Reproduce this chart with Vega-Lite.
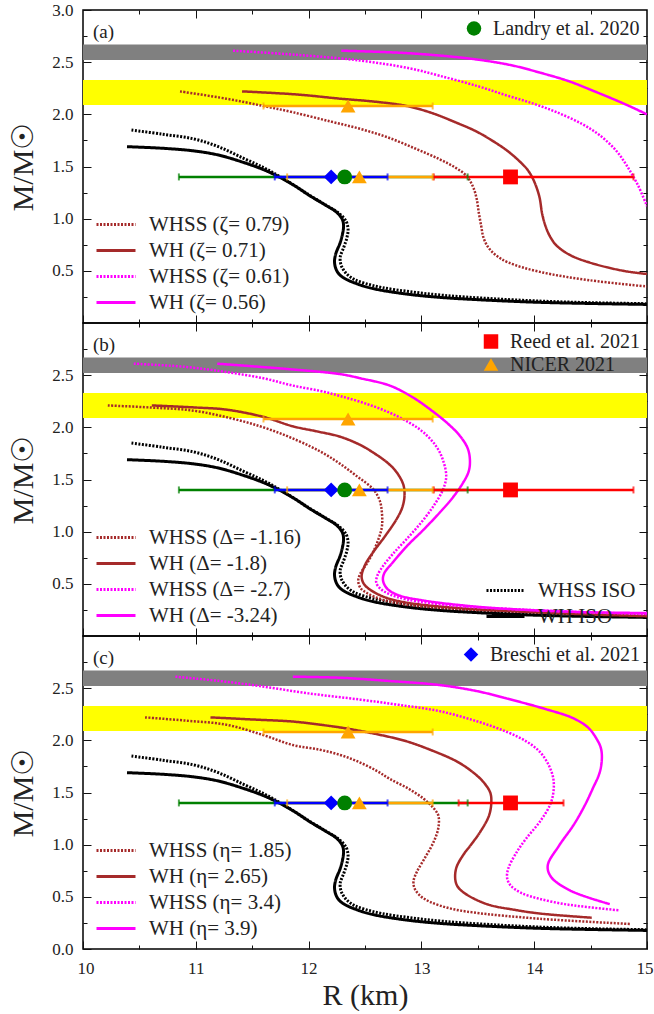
{
"$schema": "https://vega.github.io/schema/vega-lite/v6.json",
"padding": {"left": 7, "top": 0, "right": 0, "bottom": 0},
"background": "white",
"bounds": "flush",
"config": {
 "font": "Liberation Serif",
 "view": {"stroke": "black", "strokeWidth": 1.5},
 "axis": {"grid": false, "domain": false, "ticks": true, "labelFont": "Liberation Serif", "labelFontSize": 17, "labelColor": "#222", "tickColor": "#111", "tickWidth": 1, "titleFont": "Liberation Serif", "titleFontWeight": "normal", "titleColor": "#222"},
 "legend": {"labelFont": "Liberation Serif", "labelColor": "#222", "padding": 0},
 "text": {"font": "Liberation Serif"}
},
"datasets": {
 "bands": [{"band": "gray", "lo": 2.52, "hi": 2.67}, {"band": "yellow", "lo": 2.09, "hi": 2.33}],
 "obs": [
  {"obs": "Breschi et al. 2021", "R": 12.20, "M": 1.4},
  {"obs": "Landry et al. 2020", "R": 12.32, "M": 1.4},
  {"obs": "NICER 2021", "R": 12.45, "M": 1.4},
  {"obs": "Reed et al. 2021", "R": 13.79, "M": 1.4},
  {"obs": "NICER 2021", "R": 12.35, "M": 2.08}
 ],
 "bars": [
  {"p": "a", "obs": "Landry et al. 2020", "M": 1.4, "lo": 10.85, "hi": 13.41},
  {"p": "a", "obs": "NICER 2021", "M": 1.4, "lo": 11.81, "hi": 13.10},
  {"p": "a", "obs": "Reed et al. 2021", "M": 1.4, "lo": 13.11, "hi": 14.88},
  {"p": "a", "obs": "Breschi et al. 2021", "M": 1.4, "lo": 11.70, "hi": 12.70},
  {"p": "a", "obs": "NICER 2021", "M": 2.08, "lo": 11.60, "hi": 13.10},
  {"p": "b", "obs": "Landry et al. 2020", "M": 1.4, "lo": 10.85, "hi": 13.41},
  {"p": "b", "obs": "NICER 2021", "M": 1.4, "lo": 11.81, "hi": 13.10},
  {"p": "b", "obs": "Reed et al. 2021", "M": 1.4, "lo": 13.11, "hi": 14.88},
  {"p": "b", "obs": "Breschi et al. 2021", "M": 1.4, "lo": 11.70, "hi": 12.70},
  {"p": "b", "obs": "NICER 2021", "M": 2.08, "lo": 11.60, "hi": 13.10},
  {"p": "c", "obs": "Landry et al. 2020", "M": 1.4, "lo": 10.85, "hi": 13.41},
  {"p": "c", "obs": "NICER 2021", "M": 1.4, "lo": 11.81, "hi": 13.10},
  {"p": "c", "obs": "Reed et al. 2021", "M": 1.4, "lo": 13.33, "hi": 14.26},
  {"p": "c", "obs": "Breschi et al. 2021", "M": 1.4, "lo": 11.70, "hi": 12.70},
  {"p": "c", "obs": "NICER 2021", "M": 2.08, "lo": 11.60, "hi": 13.10}
 ],
 "iso": [
  {"s": "WH ISO", "i": 1, "R": 10.39, "M": 1.69}, {"s": "WH ISO", "i": 2, "R": 10.7, "M": 1.675}, {"s": "WH ISO", "i": 3, "R": 10.98, "M": 1.65}, {"s": "WH ISO", "i": 4, "R": 11.2, "M": 1.61}, {"s": "WH ISO", "i": 5, "R": 11.42, "M": 1.54}, {"s": "WH ISO", "i": 6, "R": 11.6, "M": 1.47}, {"s": "WH ISO", "i": 7, "R": 11.72, "M": 1.41}, {"s": "WH ISO", "i": 8, "R": 11.87, "M": 1.32}, {"s": "WH ISO", "i": 9, "R": 12.01, "M": 1.22}, {"s": "WH ISO", "i": 10, "R": 12.15, "M": 1.13}, {"s": "WH ISO", "i": 11, "R": 12.25, "M": 1.06}, {"s": "WH ISO", "i": 12, "R": 12.30, "M": 0.99}, {"s": "WH ISO", "i": 13, "R": 12.31, "M": 0.93}, {"s": "WH ISO", "i": 14, "R": 12.30, "M": 0.85}, {"s": "WH ISO", "i": 15, "R": 12.28, "M": 0.77}, {"s": "WH ISO", "i": 16, "R": 12.24, "M": 0.66}, {"s": "WH ISO", "i": 17, "R": 12.23, "M": 0.58}, {"s": "WH ISO", "i": 18, "R": 12.25, "M": 0.50}, {"s": "WH ISO", "i": 19, "R": 12.30, "M": 0.44}, {"s": "WH ISO", "i": 20, "R": 12.43, "M": 0.375}, {"s": "WH ISO", "i": 21, "R": 12.57, "M": 0.33}, {"s": "WH ISO", "i": 22, "R": 12.85, "M": 0.28}, {"s": "WH ISO", "i": 23, "R": 13.16, "M": 0.246}, {"s": "WH ISO", "i": 24, "R": 13.6, "M": 0.218}, {"s": "WH ISO", "i": 25, "R": 14.05, "M": 0.198}, {"s": "WH ISO", "i": 26, "R": 14.5, "M": 0.187}, {"s": "WH ISO", "i": 27, "R": 15.0, "M": 0.178},
  {"s": "WHSS ISO", "i": 1, "R": 10.43, "M": 1.85}, {"s": "WHSS ISO", "i": 2, "R": 10.7, "M": 1.81}, {"s": "WHSS ISO", "i": 3, "R": 10.98, "M": 1.765}, {"s": "WHSS ISO", "i": 4, "R": 11.2, "M": 1.69}, {"s": "WHSS ISO", "i": 5, "R": 11.42, "M": 1.58}, {"s": "WHSS ISO", "i": 6, "R": 11.6, "M": 1.49}, {"s": "WHSS ISO", "i": 7, "R": 11.75, "M": 1.40}, {"s": "WHSS ISO", "i": 8, "R": 11.9, "M": 1.30}, {"s": "WHSS ISO", "i": 9, "R": 12.03, "M": 1.21}, {"s": "WHSS ISO", "i": 10, "R": 12.17, "M": 1.12}, {"s": "WHSS ISO", "i": 11, "R": 12.27, "M": 1.05}, {"s": "WHSS ISO", "i": 12, "R": 12.33, "M": 0.98}, {"s": "WHSS ISO", "i": 13, "R": 12.35, "M": 0.90}, {"s": "WHSS ISO", "i": 14, "R": 12.34, "M": 0.82}, {"s": "WHSS ISO", "i": 15, "R": 12.31, "M": 0.72}, {"s": "WHSS ISO", "i": 16, "R": 12.28, "M": 0.63}, {"s": "WHSS ISO", "i": 17, "R": 12.29, "M": 0.55}, {"s": "WHSS ISO", "i": 18, "R": 12.33, "M": 0.48}, {"s": "WHSS ISO", "i": 19, "R": 12.40, "M": 0.42}, {"s": "WHSS ISO", "i": 20, "R": 12.5, "M": 0.38}, {"s": "WHSS ISO", "i": 21, "R": 12.65, "M": 0.34}, {"s": "WHSS ISO", "i": 22, "R": 12.9, "M": 0.30}, {"s": "WHSS ISO", "i": 23, "R": 13.2, "M": 0.265}, {"s": "WHSS ISO", "i": 24, "R": 13.6, "M": 0.235}, {"s": "WHSS ISO", "i": 25, "R": 14.05, "M": 0.21}, {"s": "WHSS ISO", "i": 26, "R": 14.5, "M": 0.195}, {"s": "WHSS ISO", "i": 27, "R": 15.0, "M": 0.185}
 ],
 "curves": [
  {"p": "a", "s": "WHSS (ζ= 0.79)", "i": 1, "R": 10.86, "M": 2.22}, {"p": "a", "s": "WHSS (ζ= 0.79)", "i": 2, "R": 11.27, "M": 2.15}, {"p": "a", "s": "WHSS (ζ= 0.79)", "i": 3, "R": 11.6, "M": 2.08}, {"p": "a", "s": "WHSS (ζ= 0.79)", "i": 4, "R": 11.86, "M": 2.02}, {"p": "a", "s": "WHSS (ζ= 0.79)", "i": 5, "R": 12.2, "M": 1.93}, {"p": "a", "s": "WHSS (ζ= 0.79)", "i": 6, "R": 12.46, "M": 1.86}, {"p": "a", "s": "WHSS (ζ= 0.79)", "i": 7, "R": 12.7, "M": 1.78}, {"p": "a", "s": "WHSS (ζ= 0.79)", "i": 8, "R": 12.95, "M": 1.67}, {"p": "a", "s": "WHSS (ζ= 0.79)", "i": 9, "R": 13.16, "M": 1.57}, {"p": "a", "s": "WHSS (ζ= 0.79)", "i": 10, "R": 13.30, "M": 1.49}, {"p": "a", "s": "WHSS (ζ= 0.79)", "i": 11, "R": 13.40, "M": 1.41}, {"p": "a", "s": "WHSS (ζ= 0.79)", "i": 12, "R": 13.46, "M": 1.30}, {"p": "a", "s": "WHSS (ζ= 0.79)", "i": 13, "R": 13.49, "M": 1.19}, {"p": "a", "s": "WHSS (ζ= 0.79)", "i": 14, "R": 13.51, "M": 1.05}, {"p": "a", "s": "WHSS (ζ= 0.79)", "i": 15, "R": 13.53, "M": 0.93}, {"p": "a", "s": "WHSS (ζ= 0.79)", "i": 16, "R": 13.55, "M": 0.82}, {"p": "a", "s": "WHSS (ζ= 0.79)", "i": 17, "R": 13.59, "M": 0.73}, {"p": "a", "s": "WHSS (ζ= 0.79)", "i": 18, "R": 13.66, "M": 0.65}, {"p": "a", "s": "WHSS (ζ= 0.79)", "i": 19, "R": 13.77, "M": 0.58}, {"p": "a", "s": "WHSS (ζ= 0.79)", "i": 20, "R": 14.05, "M": 0.49}, {"p": "a", "s": "WHSS (ζ= 0.79)", "i": 21, "R": 14.49, "M": 0.41}, {"p": "a", "s": "WHSS (ζ= 0.79)", "i": 22, "R": 15.0, "M": 0.35},
  {"p": "a", "s": "WH (ζ= 0.71)", "i": 1, "R": 11.41, "M": 2.22}, {"p": "a", "s": "WH (ζ= 0.71)", "i": 2, "R": 11.9, "M": 2.19}, {"p": "a", "s": "WH (ζ= 0.71)", "i": 3, "R": 12.28, "M": 2.15}, {"p": "a", "s": "WH (ζ= 0.71)", "i": 4, "R": 12.6, "M": 2.12}, {"p": "a", "s": "WH (ζ= 0.71)", "i": 5, "R": 12.87, "M": 2.08}, {"p": "a", "s": "WH (ζ= 0.71)", "i": 6, "R": 13.1, "M": 2.01}, {"p": "a", "s": "WH (ζ= 0.71)", "i": 7, "R": 13.31, "M": 1.92}, {"p": "a", "s": "WH (ζ= 0.71)", "i": 8, "R": 13.48, "M": 1.84}, {"p": "a", "s": "WH (ζ= 0.71)", "i": 9, "R": 13.61, "M": 1.76}, {"p": "a", "s": "WH (ζ= 0.71)", "i": 10, "R": 13.75, "M": 1.66}, {"p": "a", "s": "WH (ζ= 0.71)", "i": 11, "R": 13.85, "M": 1.57}, {"p": "a", "s": "WH (ζ= 0.71)", "i": 12, "R": 13.94, "M": 1.47}, {"p": "a", "s": "WH (ζ= 0.71)", "i": 13, "R": 13.99, "M": 1.38}, {"p": "a", "s": "WH (ζ= 0.71)", "i": 14, "R": 14.03, "M": 1.27}, {"p": "a", "s": "WH (ζ= 0.71)", "i": 15, "R": 14.05, "M": 1.19}, {"p": "a", "s": "WH (ζ= 0.71)", "i": 16, "R": 14.07, "M": 1.05}, {"p": "a", "s": "WH (ζ= 0.71)", "i": 17, "R": 14.10, "M": 0.93}, {"p": "a", "s": "WH (ζ= 0.71)", "i": 18, "R": 14.14, "M": 0.83}, {"p": "a", "s": "WH (ζ= 0.71)", "i": 19, "R": 14.20, "M": 0.74}, {"p": "a", "s": "WH (ζ= 0.71)", "i": 20, "R": 14.32, "M": 0.65}, {"p": "a", "s": "WH (ζ= 0.71)", "i": 21, "R": 14.49, "M": 0.58}, {"p": "a", "s": "WH (ζ= 0.71)", "i": 22, "R": 14.79, "M": 0.50}, {"p": "a", "s": "WH (ζ= 0.71)", "i": 23, "R": 15.0, "M": 0.47},
  {"p": "a", "s": "WHSS (ζ= 0.61)", "i": 1, "R": 11.33, "M": 2.61}, {"p": "a", "s": "WHSS (ζ= 0.61)", "i": 2, "R": 11.9, "M": 2.57}, {"p": "a", "s": "WHSS (ζ= 0.61)", "i": 3, "R": 12.46, "M": 2.515}, {"p": "a", "s": "WHSS (ζ= 0.61)", "i": 4, "R": 12.9, "M": 2.44}, {"p": "a", "s": "WHSS (ζ= 0.61)", "i": 5, "R": 13.16, "M": 2.37}, {"p": "a", "s": "WHSS (ζ= 0.61)", "i": 6, "R": 13.5, "M": 2.27}, {"p": "a", "s": "WHSS (ζ= 0.61)", "i": 7, "R": 13.76, "M": 2.18}, {"p": "a", "s": "WHSS (ζ= 0.61)", "i": 8, "R": 14.0, "M": 2.10}, {"p": "a", "s": "WHSS (ζ= 0.61)", "i": 9, "R": 14.20, "M": 2.02}, {"p": "a", "s": "WHSS (ζ= 0.61)", "i": 10, "R": 14.42, "M": 1.91}, {"p": "a", "s": "WHSS (ζ= 0.61)", "i": 11, "R": 14.58, "M": 1.80}, {"p": "a", "s": "WHSS (ζ= 0.61)", "i": 12, "R": 14.72, "M": 1.66}, {"p": "a", "s": "WHSS (ζ= 0.61)", "i": 13, "R": 14.82, "M": 1.51}, {"p": "a", "s": "WHSS (ζ= 0.61)", "i": 14, "R": 14.92, "M": 1.32}, {"p": "a", "s": "WHSS (ζ= 0.61)", "i": 15, "R": 15.0, "M": 1.12},
  {"p": "a", "s": "WH (ζ= 0.56)", "i": 1, "R": 12.29, "M": 2.61}, {"p": "a", "s": "WH (ζ= 0.56)", "i": 2, "R": 12.9, "M": 2.585}, {"p": "a", "s": "WH (ζ= 0.56)", "i": 3, "R": 13.46, "M": 2.53}, {"p": "a", "s": "WH (ζ= 0.56)", "i": 4, "R": 13.8, "M": 2.47}, {"p": "a", "s": "WH (ζ= 0.56)", "i": 5, "R": 14.05, "M": 2.40}, {"p": "a", "s": "WH (ζ= 0.56)", "i": 6, "R": 14.3, "M": 2.32}, {"p": "a", "s": "WH (ζ= 0.56)", "i": 7, "R": 14.49, "M": 2.24}, {"p": "a", "s": "WH (ζ= 0.56)", "i": 8, "R": 14.8, "M": 2.10}, {"p": "a", "s": "WH (ζ= 0.56)", "i": 9, "R": 15.0, "M": 2.00},

  {"p": "b", "s": "WHSS (Δ= -1.16)", "i": 1, "R": 10.22, "M": 2.21}, {"p": "b", "s": "WHSS (Δ= -1.16)", "i": 2, "R": 10.6, "M": 2.19}, {"p": "b", "s": "WHSS (Δ= -1.16)", "i": 3, "R": 10.98, "M": 2.16}, {"p": "b", "s": "WHSS (Δ= -1.16)", "i": 4, "R": 11.3, "M": 2.09}, {"p": "b", "s": "WHSS (Δ= -1.16)", "i": 5, "R": 11.57, "M": 2.01}, {"p": "b", "s": "WHSS (Δ= -1.16)", "i": 6, "R": 11.8, "M": 1.92}, {"p": "b", "s": "WHSS (Δ= -1.16)", "i": 7, "R": 12.01, "M": 1.82}, {"p": "b", "s": "WHSS (Δ= -1.16)", "i": 8, "R": 12.15, "M": 1.74}, {"p": "b", "s": "WHSS (Δ= -1.16)", "i": 9, "R": 12.28, "M": 1.65}, {"p": "b", "s": "WHSS (Δ= -1.16)", "i": 10, "R": 12.43, "M": 1.53}, {"p": "b", "s": "WHSS (Δ= -1.16)", "i": 11, "R": 12.57, "M": 1.41}, {"p": "b", "s": "WHSS (Δ= -1.16)", "i": 12, "R": 12.63, "M": 1.30}, {"p": "b", "s": "WHSS (Δ= -1.16)", "i": 13, "R": 12.65, "M": 1.18}, {"p": "b", "s": "WHSS (Δ= -1.16)", "i": 14, "R": 12.65, "M": 1.05}, {"p": "b", "s": "WHSS (Δ= -1.16)", "i": 15, "R": 12.62, "M": 0.93}, {"p": "b", "s": "WHSS (Δ= -1.16)", "i": 16, "R": 12.57, "M": 0.80}, {"p": "b", "s": "WHSS (Δ= -1.16)", "i": 17, "R": 12.52, "M": 0.70}, {"p": "b", "s": "WHSS (Δ= -1.16)", "i": 18, "R": 12.46, "M": 0.60}, {"p": "b", "s": "WHSS (Δ= -1.16)", "i": 19, "R": 12.44, "M": 0.53}, {"p": "b", "s": "WHSS (Δ= -1.16)", "i": 20, "R": 12.46, "M": 0.46}, {"p": "b", "s": "WHSS (Δ= -1.16)", "i": 21, "R": 12.52, "M": 0.41}, {"p": "b", "s": "WHSS (Δ= -1.16)", "i": 22, "R": 12.65, "M": 0.35}, {"p": "b", "s": "WHSS (Δ= -1.16)", "i": 23, "R": 12.87, "M": 0.30}, {"p": "b", "s": "WHSS (Δ= -1.16)", "i": 24, "R": 13.3, "M": 0.26}, {"p": "b", "s": "WHSS (Δ= -1.16)", "i": 25, "R": 13.76, "M": 0.24}, {"p": "b", "s": "WHSS (Δ= -1.16)", "i": 26, "R": 14.4, "M": 0.22}, {"p": "b", "s": "WHSS (Δ= -1.16)", "i": 27, "R": 15.0, "M": 0.21},
  {"p": "b", "s": "WH (Δ= -1.8)", "i": 1, "R": 10.61, "M": 2.21}, {"p": "b", "s": "WH (Δ= -1.8)", "i": 2, "R": 11.0, "M": 2.19}, {"p": "b", "s": "WH (Δ= -1.8)", "i": 3, "R": 11.27, "M": 2.17}, {"p": "b", "s": "WH (Δ= -1.8)", "i": 4, "R": 11.6, "M": 2.10}, {"p": "b", "s": "WH (Δ= -1.8)", "i": 5, "R": 11.86, "M": 2.01}, {"p": "b", "s": "WH (Δ= -1.8)", "i": 6, "R": 12.08, "M": 1.96}, {"p": "b", "s": "WH (Δ= -1.8)", "i": 7, "R": 12.28, "M": 1.91}, {"p": "b", "s": "WH (Δ= -1.8)", "i": 8, "R": 12.46, "M": 1.83}, {"p": "b", "s": "WH (Δ= -1.8)", "i": 9, "R": 12.57, "M": 1.76}, {"p": "b", "s": "WH (Δ= -1.8)", "i": 10, "R": 12.70, "M": 1.66}, {"p": "b", "s": "WH (Δ= -1.8)", "i": 11, "R": 12.78, "M": 1.57}, {"p": "b", "s": "WH (Δ= -1.8)", "i": 12, "R": 12.84, "M": 1.45}, {"p": "b", "s": "WH (Δ= -1.8)", "i": 13, "R": 12.85, "M": 1.34}, {"p": "b", "s": "WH (Δ= -1.8)", "i": 14, "R": 12.83, "M": 1.23}, {"p": "b", "s": "WH (Δ= -1.8)", "i": 15, "R": 12.78, "M": 1.12}, {"p": "b", "s": "WH (Δ= -1.8)", "i": 16, "R": 12.68, "M": 0.96}, {"p": "b", "s": "WH (Δ= -1.8)", "i": 17, "R": 12.57, "M": 0.80}, {"p": "b", "s": "WH (Δ= -1.8)", "i": 18, "R": 12.50, "M": 0.68}, {"p": "b", "s": "WH (Δ= -1.8)", "i": 19, "R": 12.47, "M": 0.57}, {"p": "b", "s": "WH (Δ= -1.8)", "i": 20, "R": 12.49, "M": 0.50}, {"p": "b", "s": "WH (Δ= -1.8)", "i": 21, "R": 12.55, "M": 0.44}, {"p": "b", "s": "WH (Δ= -1.8)", "i": 22, "R": 12.68, "M": 0.37}, {"p": "b", "s": "WH (Δ= -1.8)", "i": 23, "R": 12.87, "M": 0.32}, {"p": "b", "s": "WH (Δ= -1.8)", "i": 24, "R": 13.3, "M": 0.27}, {"p": "b", "s": "WH (Δ= -1.8)", "i": 25, "R": 13.76, "M": 0.24}, {"p": "b", "s": "WH (Δ= -1.8)", "i": 26, "R": 14.4, "M": 0.21}, {"p": "b", "s": "WH (Δ= -1.8)", "i": 27, "R": 15.0, "M": 0.19},
  {"p": "b", "s": "WHSS (Δ= -2.7)", "i": 1, "R": 10.45, "M": 2.61}, {"p": "b", "s": "WHSS (Δ= -2.7)", "i": 2, "R": 10.9, "M": 2.58}, {"p": "b", "s": "WHSS (Δ= -2.7)", "i": 3, "R": 11.27, "M": 2.53}, {"p": "b", "s": "WHSS (Δ= -2.7)", "i": 4, "R": 11.6, "M": 2.47}, {"p": "b", "s": "WHSS (Δ= -2.7)", "i": 5, "R": 11.86, "M": 2.40}, {"p": "b", "s": "WHSS (Δ= -2.7)", "i": 6, "R": 12.1, "M": 2.35}, {"p": "b", "s": "WHSS (Δ= -2.7)", "i": 7, "R": 12.28, "M": 2.30}, {"p": "b", "s": "WHSS (Δ= -2.7)", "i": 8, "R": 12.5, "M": 2.23}, {"p": "b", "s": "WHSS (Δ= -2.7)", "i": 9, "R": 12.72, "M": 2.14}, {"p": "b", "s": "WHSS (Δ= -2.7)", "i": 10, "R": 12.9, "M": 2.04}, {"p": "b", "s": "WHSS (Δ= -2.7)", "i": 11, "R": 13.02, "M": 1.95}, {"p": "b", "s": "WHSS (Δ= -2.7)", "i": 12, "R": 13.13, "M": 1.82}, {"p": "b", "s": "WHSS (Δ= -2.7)", "i": 13, "R": 13.19, "M": 1.69}, {"p": "b", "s": "WHSS (Δ= -2.7)", "i": 14, "R": 13.22, "M": 1.53}, {"p": "b", "s": "WHSS (Δ= -2.7)", "i": 15, "R": 13.19, "M": 1.40}, {"p": "b", "s": "WHSS (Δ= -2.7)", "i": 16, "R": 13.11, "M": 1.25}, {"p": "b", "s": "WHSS (Δ= -2.7)", "i": 17, "R": 13.0, "M": 1.09}, {"p": "b", "s": "WHSS (Δ= -2.7)", "i": 18, "R": 12.87, "M": 0.93}, {"p": "b", "s": "WHSS (Δ= -2.7)", "i": 19, "R": 12.75, "M": 0.79}, {"p": "b", "s": "WHSS (Δ= -2.7)", "i": 20, "R": 12.66, "M": 0.67}, {"p": "b", "s": "WHSS (Δ= -2.7)", "i": 21, "R": 12.61, "M": 0.58}, {"p": "b", "s": "WHSS (Δ= -2.7)", "i": 22, "R": 12.60, "M": 0.51}, {"p": "b", "s": "WHSS (Δ= -2.7)", "i": 23, "R": 12.64, "M": 0.45}, {"p": "b", "s": "WHSS (Δ= -2.7)", "i": 24, "R": 12.72, "M": 0.40}, {"p": "b", "s": "WHSS (Δ= -2.7)", "i": 25, "R": 12.87, "M": 0.35}, {"p": "b", "s": "WHSS (Δ= -2.7)", "i": 26, "R": 13.3, "M": 0.29}, {"p": "b", "s": "WHSS (Δ= -2.7)", "i": 27, "R": 13.76, "M": 0.26}, {"p": "b", "s": "WHSS (Δ= -2.7)", "i": 28, "R": 14.4, "M": 0.23}, {"p": "b", "s": "WHSS (Δ= -2.7)", "i": 29, "R": 15.0, "M": 0.21},
  {"p": "b", "s": "WH (Δ= -3.24)", "i": 1, "R": 11.19, "M": 2.61}, {"p": "b", "s": "WH (Δ= -3.24)", "i": 2, "R": 11.8, "M": 2.56}, {"p": "b", "s": "WH (Δ= -3.24)", "i": 3, "R": 12.28, "M": 2.51}, {"p": "b", "s": "WH (Δ= -3.24)", "i": 4, "R": 12.46, "M": 2.47}, {"p": "b", "s": "WH (Δ= -3.24)", "i": 5, "R": 12.72, "M": 2.40}, {"p": "b", "s": "WH (Δ= -3.24)", "i": 6, "R": 12.92, "M": 2.29}, {"p": "b", "s": "WH (Δ= -3.24)", "i": 7, "R": 13.08, "M": 2.17}, {"p": "b", "s": "WH (Δ= -3.24)", "i": 8, "R": 13.23, "M": 2.04}, {"p": "b", "s": "WH (Δ= -3.24)", "i": 9, "R": 13.34, "M": 1.92}, {"p": "b", "s": "WH (Δ= -3.24)", "i": 10, "R": 13.41, "M": 1.80}, {"p": "b", "s": "WH (Δ= -3.24)", "i": 11, "R": 13.43, "M": 1.69}, {"p": "b", "s": "WH (Δ= -3.24)", "i": 12, "R": 13.42, "M": 1.58}, {"p": "b", "s": "WH (Δ= -3.24)", "i": 13, "R": 13.37, "M": 1.47}, {"p": "b", "s": "WH (Δ= -3.24)", "i": 14, "R": 13.28, "M": 1.33}, {"p": "b", "s": "WH (Δ= -3.24)", "i": 15, "R": 13.16, "M": 1.18}, {"p": "b", "s": "WH (Δ= -3.24)", "i": 16, "R": 13.02, "M": 1.02}, {"p": "b", "s": "WH (Δ= -3.24)", "i": 17, "R": 12.87, "M": 0.86}, {"p": "b", "s": "WH (Δ= -3.24)", "i": 18, "R": 12.75, "M": 0.71}, {"p": "b", "s": "WH (Δ= -3.24)", "i": 19, "R": 12.67, "M": 0.60}, {"p": "b", "s": "WH (Δ= -3.24)", "i": 20, "R": 12.66, "M": 0.53}, {"p": "b", "s": "WH (Δ= -3.24)", "i": 21, "R": 12.70, "M": 0.45}, {"p": "b", "s": "WH (Δ= -3.24)", "i": 22, "R": 12.80, "M": 0.39}, {"p": "b", "s": "WH (Δ= -3.24)", "i": 23, "R": 13.02, "M": 0.34}, {"p": "b", "s": "WH (Δ= -3.24)", "i": 24, "R": 13.4, "M": 0.29}, {"p": "b", "s": "WH (Δ= -3.24)", "i": 25, "R": 13.76, "M": 0.26}, {"p": "b", "s": "WH (Δ= -3.24)", "i": 26, "R": 14.4, "M": 0.23}, {"p": "b", "s": "WH (Δ= -3.24)", "i": 27, "R": 15.0, "M": 0.22},

  {"p": "c", "s": "WHSS (η= 1.85)", "i": 1, "R": 10.55, "M": 2.22}, {"p": "c", "s": "WHSS (η= 1.85)", "i": 2, "R": 10.9, "M": 2.19}, {"p": "c", "s": "WHSS (η= 1.85)", "i": 3, "R": 11.27, "M": 2.15}, {"p": "c", "s": "WHSS (η= 1.85)", "i": 4, "R": 11.6, "M": 2.05}, {"p": "c", "s": "WHSS (η= 1.85)", "i": 5, "R": 11.86, "M": 1.955}, {"p": "c", "s": "WHSS (η= 1.85)", "i": 6, "R": 12.1, "M": 1.91}, {"p": "c", "s": "WHSS (η= 1.85)", "i": 7, "R": 12.28, "M": 1.86}, {"p": "c", "s": "WHSS (η= 1.85)", "i": 8, "R": 12.43, "M": 1.80}, {"p": "c", "s": "WHSS (η= 1.85)", "i": 9, "R": 12.6, "M": 1.71}, {"p": "c", "s": "WHSS (η= 1.85)", "i": 10, "R": 12.72, "M": 1.63}, {"p": "c", "s": "WHSS (η= 1.85)", "i": 11, "R": 12.88, "M": 1.54}, {"p": "c", "s": "WHSS (η= 1.85)", "i": 12, "R": 13.02, "M": 1.44}, {"p": "c", "s": "WHSS (η= 1.85)", "i": 13, "R": 13.10, "M": 1.36}, {"p": "c", "s": "WHSS (η= 1.85)", "i": 14, "R": 13.15, "M": 1.28}, {"p": "c", "s": "WHSS (η= 1.85)", "i": 15, "R": 13.15, "M": 1.16}, {"p": "c", "s": "WHSS (η= 1.85)", "i": 16, "R": 13.11, "M": 1.03}, {"p": "c", "s": "WHSS (η= 1.85)", "i": 17, "R": 13.04, "M": 0.89}, {"p": "c", "s": "WHSS (η= 1.85)", "i": 18, "R": 12.96, "M": 0.74}, {"p": "c", "s": "WHSS (η= 1.85)", "i": 19, "R": 12.93, "M": 0.65}, {"p": "c", "s": "WHSS (η= 1.85)", "i": 20, "R": 12.94, "M": 0.58}, {"p": "c", "s": "WHSS (η= 1.85)", "i": 21, "R": 12.99, "M": 0.51}, {"p": "c", "s": "WHSS (η= 1.85)", "i": 22, "R": 13.08, "M": 0.45}, {"p": "c", "s": "WHSS (η= 1.85)", "i": 23, "R": 13.25, "M": 0.39}, {"p": "c", "s": "WHSS (η= 1.85)", "i": 24, "R": 13.46, "M": 0.35}, {"p": "c", "s": "WHSS (η= 1.85)", "i": 25, "R": 14.05, "M": 0.29}, {"p": "c", "s": "WHSS (η= 1.85)", "i": 26, "R": 14.85, "M": 0.24},
  {"p": "c", "s": "WH (η= 2.65)", "i": 1, "R": 11.13, "M": 2.22}, {"p": "c", "s": "WH (η= 2.65)", "i": 2, "R": 11.5, "M": 2.20}, {"p": "c", "s": "WH (η= 2.65)", "i": 3, "R": 11.86, "M": 2.18}, {"p": "c", "s": "WH (η= 2.65)", "i": 4, "R": 12.1, "M": 2.15}, {"p": "c", "s": "WH (η= 2.65)", "i": 5, "R": 12.3, "M": 2.12}, {"p": "c", "s": "WH (η= 2.65)", "i": 6, "R": 12.6, "M": 2.06}, {"p": "c", "s": "WH (η= 2.65)", "i": 7, "R": 12.87, "M": 1.99}, {"p": "c", "s": "WH (η= 2.65)", "i": 8, "R": 13.1, "M": 1.90}, {"p": "c", "s": "WH (η= 2.65)", "i": 9, "R": 13.31, "M": 1.80}, {"p": "c", "s": "WH (η= 2.65)", "i": 10, "R": 13.45, "M": 1.70}, {"p": "c", "s": "WH (η= 2.65)", "i": 11, "R": 13.55, "M": 1.60}, {"p": "c", "s": "WH (η= 2.65)", "i": 12, "R": 13.61, "M": 1.50}, {"p": "c", "s": "WH (η= 2.65)", "i": 13, "R": 13.62, "M": 1.41}, {"p": "c", "s": "WH (η= 2.65)", "i": 14, "R": 13.60, "M": 1.28}, {"p": "c", "s": "WH (η= 2.65)", "i": 15, "R": 13.52, "M": 1.12}, {"p": "c", "s": "WH (η= 2.65)", "i": 16, "R": 13.44, "M": 1.00}, {"p": "c", "s": "WH (η= 2.65)", "i": 17, "R": 13.37, "M": 0.90}, {"p": "c", "s": "WH (η= 2.65)", "i": 18, "R": 13.31, "M": 0.78}, {"p": "c", "s": "WH (η= 2.65)", "i": 19, "R": 13.30, "M": 0.67}, {"p": "c", "s": "WH (η= 2.65)", "i": 20, "R": 13.32, "M": 0.60}, {"p": "c", "s": "WH (η= 2.65)", "i": 21, "R": 13.37, "M": 0.545}, {"p": "c", "s": "WH (η= 2.65)", "i": 22, "R": 13.47, "M": 0.48}, {"p": "c", "s": "WH (η= 2.65)", "i": 23, "R": 13.61, "M": 0.42}, {"p": "c", "s": "WH (η= 2.65)", "i": 24, "R": 13.8, "M": 0.38}, {"p": "c", "s": "WH (η= 2.65)", "i": 25, "R": 14.05, "M": 0.34}, {"p": "c", "s": "WH (η= 2.65)", "i": 26, "R": 14.51, "M": 0.30},
  {"p": "c", "s": "WHSS (η= 3.4)", "i": 1, "R": 10.82, "M": 2.61}, {"p": "c", "s": "WHSS (η= 3.4)", "i": 2, "R": 11.2, "M": 2.57}, {"p": "c", "s": "WHSS (η= 3.4)", "i": 3, "R": 11.57, "M": 2.52}, {"p": "c", "s": "WHSS (η= 3.4)", "i": 4, "R": 12.0, "M": 2.45}, {"p": "c", "s": "WHSS (η= 3.4)", "i": 5, "R": 12.46, "M": 2.39}, {"p": "c", "s": "WHSS (η= 3.4)", "i": 6, "R": 12.8, "M": 2.34}, {"p": "c", "s": "WHSS (η= 3.4)", "i": 7, "R": 13.16, "M": 2.28}, {"p": "c", "s": "WHSS (η= 3.4)", "i": 8, "R": 13.5, "M": 2.18}, {"p": "c", "s": "WHSS (η= 3.4)", "i": 9, "R": 13.76, "M": 2.08}, {"p": "c", "s": "WHSS (η= 3.4)", "i": 10, "R": 13.93, "M": 1.99}, {"p": "c", "s": "WHSS (η= 3.4)", "i": 11, "R": 14.05, "M": 1.89}, {"p": "c", "s": "WHSS (η= 3.4)", "i": 12, "R": 14.13, "M": 1.76}, {"p": "c", "s": "WHSS (η= 3.4)", "i": 13, "R": 14.17, "M": 1.63}, {"p": "c", "s": "WHSS (η= 3.4)", "i": 14, "R": 14.17, "M": 1.50}, {"p": "c", "s": "WHSS (η= 3.4)", "i": 15, "R": 14.14, "M": 1.38}, {"p": "c", "s": "WHSS (η= 3.4)", "i": 16, "R": 14.05, "M": 1.22}, {"p": "c", "s": "WHSS (η= 3.4)", "i": 17, "R": 13.93, "M": 1.06}, {"p": "c", "s": "WHSS (η= 3.4)", "i": 18, "R": 13.84, "M": 0.92}, {"p": "c", "s": "WHSS (η= 3.4)", "i": 19, "R": 13.77, "M": 0.77}, {"p": "c", "s": "WHSS (η= 3.4)", "i": 20, "R": 13.76, "M": 0.68}, {"p": "c", "s": "WHSS (η= 3.4)", "i": 21, "R": 13.79, "M": 0.61}, {"p": "c", "s": "WHSS (η= 3.4)", "i": 22, "R": 13.88, "M": 0.54}, {"p": "c", "s": "WHSS (η= 3.4)", "i": 23, "R": 14.05, "M": 0.48}, {"p": "c", "s": "WHSS (η= 3.4)", "i": 24, "R": 14.27, "M": 0.43}, {"p": "c", "s": "WHSS (η= 3.4)", "i": 25, "R": 14.49, "M": 0.40}, {"p": "c", "s": "WHSS (η= 3.4)", "i": 26, "R": 14.76, "M": 0.37},
  {"p": "c", "s": "WH (η= 3.9)", "i": 1, "R": 11.86, "M": 2.61}, {"p": "c", "s": "WH (η= 3.9)", "i": 2, "R": 12.28, "M": 2.60}, {"p": "c", "s": "WH (η= 3.9)", "i": 3, "R": 12.7, "M": 2.57}, {"p": "c", "s": "WH (η= 3.9)", "i": 4, "R": 13.16, "M": 2.53}, {"p": "c", "s": "WH (η= 3.9)", "i": 5, "R": 13.5, "M": 2.47}, {"p": "c", "s": "WH (η= 3.9)", "i": 6, "R": 13.76, "M": 2.40}, {"p": "c", "s": "WH (η= 3.9)", "i": 7, "R": 14.1, "M": 2.30}, {"p": "c", "s": "WH (η= 3.9)", "i": 8, "R": 14.35, "M": 2.21}, {"p": "c", "s": "WH (η= 3.9)", "i": 9, "R": 14.48, "M": 2.12}, {"p": "c", "s": "WH (η= 3.9)", "i": 10, "R": 14.55, "M": 2.02}, {"p": "c", "s": "WH (η= 3.9)", "i": 11, "R": 14.59, "M": 1.93}, {"p": "c", "s": "WH (η= 3.9)", "i": 12, "R": 14.60, "M": 1.83}, {"p": "c", "s": "WH (η= 3.9)", "i": 13, "R": 14.58, "M": 1.69}, {"p": "c", "s": "WH (η= 3.9)", "i": 14, "R": 14.52, "M": 1.54}, {"p": "c", "s": "WH (η= 3.9)", "i": 15, "R": 14.45, "M": 1.38}, {"p": "c", "s": "WH (η= 3.9)", "i": 16, "R": 14.35, "M": 1.19}, {"p": "c", "s": "WH (η= 3.9)", "i": 17, "R": 14.22, "M": 0.99}, {"p": "c", "s": "WH (η= 3.9)", "i": 18, "R": 14.12, "M": 0.80}, {"p": "c", "s": "WH (η= 3.9)", "i": 19, "R": 14.15, "M": 0.69}, {"p": "c", "s": "WH (η= 3.9)", "i": 20, "R": 14.32, "M": 0.56}, {"p": "c", "s": "WH (η= 3.9)", "i": 21, "R": 14.67, "M": 0.43}
 ]
},
"spacing": 0,
"resolve": {"scale": {"x": "independent", "y": "independent", "color": "independent", "strokeDash": "independent", "fill": "independent", "shape": "independent"}, "legend": {"color": "independent", "strokeDash": "independent", "fill": "independent", "shape": "independent"}},
"vconcat": [
 {
  "width": 564, "height": 313,
  "layer": [
   {"data": {"name": "bands"}, "transform": [{"filter": "datum.band === 'gray'"}], "mark": {"type": "rect", "color": "#808080"},
    "encoding": {"y": {"field": "lo", "type": "quantitative", "scale": {"domain": [0, 3], "nice": false}, "axis": {"orient": "left", "values": [0.5, 1, 1.5, 2, 2.5, 3], "format": ".1f", "tickSize": -8, "labelPadding": 18, "title": "M/M☉", "titleFontSize": 30, "titleX": -51, "titleY": 156.5, "titleAngle": -90, "titleBaseline": "alphabetic"}}, "y2": {"field": "hi"}}},
   {"data": {"name": "bands"}, "transform": [{"filter": "datum.band === 'yellow'"}], "mark": {"type": "rect", "color": "#ffff00"},
    "encoding": {"y": {"field": "lo", "type": "quantitative", "scale": {"domain": [0, 3], "nice": false}, "axis": {"orient": "left", "values": [0.25, 0.75, 1.25, 1.75, 2.25, 2.75], "tickSize": -4, "labels": false, "title": null}}, "y2": {"field": "hi"}}},
   {"data": {"name": "iso"}, "mark": {"type": "line", "strokeWidth": 3, "interpolate": "catmull-rom", "clip": true},
    "encoding": {"x": {"field": "R", "type": "quantitative", "scale": {"domain": [10, 15], "nice": false}, "axis": {"orient": "bottom", "values": [10, 11, 12, 13, 14, 15], "tickSize": -8, "labels": false, "title": null}},
     "y": {"field": "M", "type": "quantitative", "axis": {"orient": "right", "values": [0.5, 1, 1.5, 2, 2.5], "tickSize": -8, "labels": false, "title": null}},
     "order": {"field": "i"},
     "color": {"field": "s", "type": "nominal", "scale": {"domain": ["WHSS ISO", "WH ISO"], "range": ["black", "black"]}, "legend": null},
     "strokeDash": {"field": "s", "type": "nominal", "scale": {"domain": ["WHSS ISO", "WH ISO"], "range": [[2, 1.5], [1, 0]]}, "legend": null}}},
   {"data": {"name": "curves"}, "transform": [{"filter": "datum.p === 'a'"}], "mark": {"type": "line", "strokeWidth": 2.5, "interpolate": "catmull-rom", "clip": true},
    "encoding": {"x": {"field": "R", "type": "quantitative", "axis": {"orient": "bottom", "values": [10.5, 11.5, 12.5, 13.5, 14.5], "tickSize": -4, "labels": false, "title": null}},
     "y": {"field": "M", "type": "quantitative", "axis": {"orient": "right", "values": [0.25, 0.75, 1.25, 1.75, 2.25, 2.75], "tickSize": -4, "labels": false, "title": null}},
     "order": {"field": "i"},
     "color": {"field": "s", "type": "nominal", "scale": {"domain": ["WHSS (ζ= 0.79)", "WH (ζ= 0.71)", "WHSS (ζ= 0.61)", "WH (ζ= 0.56)"], "range": ["#a52a2a", "#a52a2a", "#ff00ff", "#ff00ff"]},
      "legend": {"title": null, "orient": "none", "legendX": 12, "legendY": 201.5, "symbolType": "stroke", "symbolSize": 1521, "symbolStrokeWidth": 3, "labelFont": "Liberation Serif", "labelFontSize": 21, "labelOffset": 12, "clipHeight": 26, "rowPadding": 0}},
     "strokeDash": {"field": "s", "type": "nominal", "scale": {"domain": ["WHSS (ζ= 0.79)", "WH (ζ= 0.71)", "WHSS (ζ= 0.61)", "WH (ζ= 0.56)"], "range": [[2, 1.5], [1, 0], [2, 1.5], [1, 0]]},
      "legend": {"title": null, "orient": "none", "legendX": 12, "legendY": 201.5, "symbolType": "stroke", "symbolSize": 1521, "symbolStrokeWidth": 3, "labelFont": "Liberation Serif", "labelFontSize": 21, "labelOffset": 12, "clipHeight": 26, "rowPadding": 0}}}},
   {"data": {"name": "bars"}, "transform": [{"filter": "datum.p === 'a'"}], "mark": {"type": "rule", "strokeWidth": 2.5},
    "encoding": {"x": {"field": "lo", "type": "quantitative", "axis": {"orient": "top", "values": [11, 12, 13, 14], "tickSize": -8, "labels": false, "title": null}}, "x2": {"field": "hi"},
     "y": {"field": "M", "type": "quantitative", "axis": null},
     "color": {"field": "obs", "type": "nominal", "scale": {"domain": ["Landry et al. 2020", "Reed et al. 2021", "NICER 2021", "Breschi et al. 2021"], "range": ["#008000", "#ff0000", "#ffa500", "#0000ff"]}, "legend": null}}},
   {"data": {"name": "bars"}, "transform": [{"filter": "datum.p === 'a'"}], "mark": {"type": "tick", "orient": "vertical", "size": 7, "thickness": 2},
    "encoding": {"x": {"field": "lo", "type": "quantitative", "axis": {"orient": "top", "values": [10.5, 11.5, 12.5, 13.5, 14.5], "tickSize": -4, "labels": false, "title": null}},
     "y": {"field": "M", "type": "quantitative", "axis": null},
     "color": {"field": "obs", "type": "nominal", "scale": {"domain": ["Landry et al. 2020", "Reed et al. 2021", "NICER 2021", "Breschi et al. 2021"], "range": ["#008000", "#ff0000", "#ffa500", "#0000ff"]}, "legend": null}}},
   {"data": {"name": "bars"}, "transform": [{"filter": "datum.p === 'a'"}], "mark": {"type": "tick", "orient": "vertical", "size": 7, "thickness": 2},
    "encoding": {"x": {"field": "hi", "type": "quantitative", "axis": null},
     "y": {"field": "M", "type": "quantitative", "axis": null},
     "color": {"field": "obs", "type": "nominal", "scale": {"domain": ["Landry et al. 2020", "Reed et al. 2021", "NICER 2021", "Breschi et al. 2021"], "range": ["#008000", "#ff0000", "#ffa500", "#0000ff"]}, "legend": null}}},
   {"data": {"name": "obs"}, "mark": {"type": "point", "filled": true, "opacity": 1, "size": 220, "strokeWidth": 0},
    "encoding": {"x": {"field": "R", "type": "quantitative", "axis": null},
     "y": {"field": "M", "type": "quantitative", "axis": null},
     "shape": {"field": "obs", "type": "nominal", "scale": {"domain": ["Landry et al. 2020", "Reed et al. 2021", "NICER 2021", "Breschi et al. 2021"], "range": ["circle", "square", "triangle-up", "diamond"]},
      "legend": {"title": null, "orient": "top-right", "offset": 7, "values": ["Landry et al. 2020"], "symbolSize": 210, "labelFont": "Liberation Serif", "labelFontSize": 20, "labelOffset": 9, "clipHeight": 23, "rowPadding": 0, "symbolStrokeWidth": 0}},
     "fill": {"field": "obs", "type": "nominal", "scale": {"domain": ["Landry et al. 2020", "Reed et al. 2021", "NICER 2021", "Breschi et al. 2021"], "range": ["#008000", "#ff0000", "#ffa500", "#0000ff"]},
      "legend": {"title": null, "orient": "top-right", "offset": 7, "values": ["Landry et al. 2020"], "symbolSize": 210, "labelFont": "Liberation Serif", "labelFontSize": 20, "labelOffset": 9, "clipHeight": 23, "rowPadding": 0, "symbolStrokeWidth": 0}}}},
   {"data": {"values": [{}]}, "mark": {"type": "text", "align": "left", "baseline": "top", "dx": 10, "dy": 13, "fontSize": 19, "font": "Liberation Serif", "color": "#222"},
    "encoding": {"x": {"datum": 10, "type": "quantitative", "axis": null}, "y": {"datum": 3, "type": "quantitative", "axis": null}, "text": {"value": "(a)"}}}
  ],
  "resolve": {"scale": {"color": "independent", "strokeDash": "independent", "fill": "independent", "shape": "independent"}, "axis": {"x": "independent", "y": "independent"}}
 },
 {
  "width": 564, "height": 313,
  "layer": [
   {"data": {"name": "bands"}, "transform": [{"filter": "datum.band === 'gray'"}], "mark": {"type": "rect", "color": "#808080"},
    "encoding": {"y": {"field": "lo", "type": "quantitative", "scale": {"domain": [0, 3], "nice": false}, "axis": {"orient": "left", "values": [0.5, 1, 1.5, 2, 2.5], "format": ".1f", "tickSize": -8, "labelPadding": 18, "title": "M/M☉", "titleFontSize": 30, "titleX": -51, "titleY": 156.5, "titleAngle": -90, "titleBaseline": "alphabetic"}}, "y2": {"field": "hi"}}},
   {"data": {"name": "bands"}, "transform": [{"filter": "datum.band === 'yellow'"}], "mark": {"type": "rect", "color": "#ffff00"},
    "encoding": {"y": {"field": "lo", "type": "quantitative", "scale": {"domain": [0, 3], "nice": false}, "axis": {"orient": "left", "values": [0.25, 0.75, 1.25, 1.75, 2.25, 2.75], "tickSize": -4, "labels": false, "title": null}}, "y2": {"field": "hi"}}},
   {"data": {"name": "iso"}, "mark": {"type": "line", "strokeWidth": 3, "interpolate": "catmull-rom", "clip": true},
    "encoding": {"x": {"field": "R", "type": "quantitative", "scale": {"domain": [10, 15], "nice": false}, "axis": {"orient": "bottom", "values": [10, 11, 12, 13, 14, 15], "tickSize": -8, "labels": false, "title": null}},
     "y": {"field": "M", "type": "quantitative", "axis": {"orient": "right", "values": [0.5, 1, 1.5, 2, 2.5], "tickSize": -8, "labels": false, "title": null}},
     "order": {"field": "i"},
     "color": {"field": "s", "type": "nominal", "scale": {"domain": ["WHSS ISO", "WH ISO"], "range": ["black", "black"]},
      "legend": {"title": null, "orient": "none", "legendX": 402, "legendY": 254.5, "symbolType": "stroke", "symbolSize": 1444, "symbolStrokeWidth": 3, "labelFont": "Liberation Serif", "labelFontSize": 21, "labelOffset": 12, "clipHeight": 26, "rowPadding": 0}},
     "strokeDash": {"field": "s", "type": "nominal", "scale": {"domain": ["WHSS ISO", "WH ISO"], "range": [[2, 1.5], [1, 0]]},
      "legend": {"title": null, "orient": "none", "legendX": 402, "legendY": 254.5, "symbolType": "stroke", "symbolSize": 1444, "symbolStrokeWidth": 3, "labelFont": "Liberation Serif", "labelFontSize": 21, "labelOffset": 12, "clipHeight": 26, "rowPadding": 0}}}},
   {"data": {"name": "curves"}, "transform": [{"filter": "datum.p === 'b'"}], "mark": {"type": "line", "strokeWidth": 2.5, "interpolate": "catmull-rom", "clip": true},
    "encoding": {"x": {"field": "R", "type": "quantitative", "axis": {"orient": "bottom", "values": [10.5, 11.5, 12.5, 13.5, 14.5], "tickSize": -4, "labels": false, "title": null}},
     "y": {"field": "M", "type": "quantitative", "axis": {"orient": "right", "values": [0.25, 0.75, 1.25, 1.75, 2.25, 2.75], "tickSize": -4, "labels": false, "title": null}},
     "order": {"field": "i"},
     "color": {"field": "s", "type": "nominal", "scale": {"domain": ["WHSS (Δ= -1.16)", "WH (Δ= -1.8)", "WHSS (Δ= -2.7)", "WH (Δ= -3.24)"], "range": ["#a52a2a", "#a52a2a", "#ff00ff", "#ff00ff"]},
      "legend": {"title": null, "orient": "none", "legendX": 12, "legendY": 201.5, "symbolType": "stroke", "symbolSize": 1521, "symbolStrokeWidth": 3, "labelFont": "Liberation Serif", "labelFontSize": 21, "labelOffset": 12, "clipHeight": 26, "rowPadding": 0}},
     "strokeDash": {"field": "s", "type": "nominal", "scale": {"domain": ["WHSS (Δ= -1.16)", "WH (Δ= -1.8)", "WHSS (Δ= -2.7)", "WH (Δ= -3.24)"], "range": [[2, 1.5], [1, 0], [2, 1.5], [1, 0]]},
      "legend": {"title": null, "orient": "none", "legendX": 12, "legendY": 201.5, "symbolType": "stroke", "symbolSize": 1521, "symbolStrokeWidth": 3, "labelFont": "Liberation Serif", "labelFontSize": 21, "labelOffset": 12, "clipHeight": 26, "rowPadding": 0}}}},
   {"data": {"name": "bars"}, "transform": [{"filter": "datum.p === 'b'"}], "mark": {"type": "rule", "strokeWidth": 2.5},
    "encoding": {"x": {"field": "lo", "type": "quantitative", "axis": {"orient": "top", "values": [11, 12, 13, 14], "tickSize": -8, "labels": false, "title": null}}, "x2": {"field": "hi"},
     "y": {"field": "M", "type": "quantitative", "axis": null},
     "color": {"field": "obs", "type": "nominal", "scale": {"domain": ["Landry et al. 2020", "Reed et al. 2021", "NICER 2021", "Breschi et al. 2021"], "range": ["#008000", "#ff0000", "#ffa500", "#0000ff"]}, "legend": null}}},
   {"data": {"name": "bars"}, "transform": [{"filter": "datum.p === 'b'"}], "mark": {"type": "tick", "orient": "vertical", "size": 7, "thickness": 2},
    "encoding": {"x": {"field": "lo", "type": "quantitative", "axis": {"orient": "top", "values": [10.5, 11.5, 12.5, 13.5, 14.5], "tickSize": -4, "labels": false, "title": null}},
     "y": {"field": "M", "type": "quantitative", "axis": null},
     "color": {"field": "obs", "type": "nominal", "scale": {"domain": ["Landry et al. 2020", "Reed et al. 2021", "NICER 2021", "Breschi et al. 2021"], "range": ["#008000", "#ff0000", "#ffa500", "#0000ff"]}, "legend": null}}},
   {"data": {"name": "bars"}, "transform": [{"filter": "datum.p === 'b'"}], "mark": {"type": "tick", "orient": "vertical", "size": 7, "thickness": 2},
    "encoding": {"x": {"field": "hi", "type": "quantitative", "axis": null},
     "y": {"field": "M", "type": "quantitative", "axis": null},
     "color": {"field": "obs", "type": "nominal", "scale": {"domain": ["Landry et al. 2020", "Reed et al. 2021", "NICER 2021", "Breschi et al. 2021"], "range": ["#008000", "#ff0000", "#ffa500", "#0000ff"]}, "legend": null}}},
   {"data": {"name": "obs"}, "mark": {"type": "point", "filled": true, "opacity": 1, "size": 220, "strokeWidth": 0},
    "encoding": {"x": {"field": "R", "type": "quantitative", "axis": null},
     "y": {"field": "M", "type": "quantitative", "axis": null},
     "shape": {"field": "obs", "type": "nominal", "scale": {"domain": ["Landry et al. 2020", "Reed et al. 2021", "NICER 2021", "Breschi et al. 2021"], "range": ["circle", "square", "triangle-up", "diamond"]},
      "legend": {"title": null, "orient": "top-right", "offset": 7, "values": ["Reed et al. 2021", "NICER 2021"], "symbolSize": 210, "labelFont": "Liberation Serif", "labelFontSize": 20, "labelOffset": 9, "clipHeight": 23, "rowPadding": 0, "symbolStrokeWidth": 0}},
     "fill": {"field": "obs", "type": "nominal", "scale": {"domain": ["Landry et al. 2020", "Reed et al. 2021", "NICER 2021", "Breschi et al. 2021"], "range": ["#008000", "#ff0000", "#ffa500", "#0000ff"]},
      "legend": {"title": null, "orient": "top-right", "offset": 7, "values": ["Reed et al. 2021", "NICER 2021"], "symbolSize": 210, "labelFont": "Liberation Serif", "labelFontSize": 20, "labelOffset": 9, "clipHeight": 23, "rowPadding": 0, "symbolStrokeWidth": 0}}}},
   {"data": {"values": [{}]}, "mark": {"type": "text", "align": "left", "baseline": "top", "dx": 10, "dy": 13, "fontSize": 19, "font": "Liberation Serif", "color": "#222"},
    "encoding": {"x": {"datum": 10, "type": "quantitative", "axis": null}, "y": {"datum": 3, "type": "quantitative", "axis": null}, "text": {"value": "(b)"}}}
  ],
  "resolve": {"scale": {"color": "independent", "strokeDash": "independent", "fill": "independent", "shape": "independent"}, "axis": {"x": "independent", "y": "independent"}}
 },
 {
  "width": 564, "height": 313,
  "layer": [
   {"data": {"name": "bands"}, "transform": [{"filter": "datum.band === 'gray'"}], "mark": {"type": "rect", "color": "#808080"},
    "encoding": {"y": {"field": "lo", "type": "quantitative", "scale": {"domain": [0, 3], "nice": false}, "axis": {"orient": "left", "values": [0, 0.5, 1, 1.5, 2, 2.5], "format": ".1f", "tickSize": -8, "labelPadding": 18, "title": "M/M☉", "titleFontSize": 30, "titleX": -51, "titleY": 156.5, "titleAngle": -90, "titleBaseline": "alphabetic"}}, "y2": {"field": "hi"}}},
   {"data": {"name": "bands"}, "transform": [{"filter": "datum.band === 'yellow'"}], "mark": {"type": "rect", "color": "#ffff00"},
    "encoding": {"y": {"field": "lo", "type": "quantitative", "scale": {"domain": [0, 3], "nice": false}, "axis": {"orient": "left", "values": [0.25, 0.75, 1.25, 1.75, 2.25, 2.75], "tickSize": -4, "labels": false, "title": null}}, "y2": {"field": "hi"}}},
   {"data": {"name": "iso"}, "mark": {"type": "line", "strokeWidth": 3, "interpolate": "catmull-rom", "clip": true},
    "encoding": {"x": {"field": "R", "type": "quantitative", "scale": {"domain": [10, 15], "nice": false}, "axis": {"orient": "bottom", "values": [10, 11, 12, 13, 14, 15], "format": "d", "tickSize": -8, "labels": true, "labelFlush": true, "labelFlushOffset": 6, "labelPadding": 19, "title": "R (km)", "titleFontSize": 30, "titleY": 55, "titleBaseline": "alphabetic"}},
     "y": {"field": "M", "type": "quantitative", "axis": {"orient": "right", "values": [0.5, 1, 1.5, 2, 2.5], "tickSize": -8, "labels": false, "title": null}},
     "order": {"field": "i"},
     "color": {"field": "s", "type": "nominal", "scale": {"domain": ["WHSS ISO", "WH ISO"], "range": ["black", "black"]}, "legend": null},
     "strokeDash": {"field": "s", "type": "nominal", "scale": {"domain": ["WHSS ISO", "WH ISO"], "range": [[2, 1.5], [1, 0]]}, "legend": null}}},
   {"data": {"name": "curves"}, "transform": [{"filter": "datum.p === 'c'"}], "mark": {"type": "line", "strokeWidth": 2.5, "interpolate": "catmull-rom", "clip": true},
    "encoding": {"x": {"field": "R", "type": "quantitative", "axis": {"orient": "bottom", "values": [10.5, 11.5, 12.5, 13.5, 14.5], "tickSize": -4, "labels": false, "title": null}},
     "y": {"field": "M", "type": "quantitative", "axis": {"orient": "right", "values": [0.25, 0.75, 1.25, 1.75, 2.25, 2.75], "tickSize": -4, "labels": false, "title": null}},
     "order": {"field": "i"},
     "color": {"field": "s", "type": "nominal", "scale": {"domain": ["WHSS (η= 1.85)", "WH (η= 2.65)", "WHSS (η= 3.4)", "WH (η= 3.9)"], "range": ["#a52a2a", "#a52a2a", "#ff00ff", "#ff00ff"]},
      "legend": {"title": null, "orient": "none", "legendX": 12, "legendY": 201.5, "symbolType": "stroke", "symbolSize": 1521, "symbolStrokeWidth": 3, "labelFont": "Liberation Serif", "labelFontSize": 21, "labelOffset": 12, "clipHeight": 26, "rowPadding": 0}},
     "strokeDash": {"field": "s", "type": "nominal", "scale": {"domain": ["WHSS (η= 1.85)", "WH (η= 2.65)", "WHSS (η= 3.4)", "WH (η= 3.9)"], "range": [[2, 1.5], [1, 0], [2, 1.5], [1, 0]]},
      "legend": {"title": null, "orient": "none", "legendX": 12, "legendY": 201.5, "symbolType": "stroke", "symbolSize": 1521, "symbolStrokeWidth": 3, "labelFont": "Liberation Serif", "labelFontSize": 21, "labelOffset": 12, "clipHeight": 26, "rowPadding": 0}}}},
   {"data": {"name": "bars"}, "transform": [{"filter": "datum.p === 'c'"}], "mark": {"type": "rule", "strokeWidth": 2.5},
    "encoding": {"x": {"field": "lo", "type": "quantitative", "axis": {"orient": "top", "values": [11, 12, 13, 14], "tickSize": -8, "labels": false, "title": null}}, "x2": {"field": "hi"},
     "y": {"field": "M", "type": "quantitative", "axis": null},
     "color": {"field": "obs", "type": "nominal", "scale": {"domain": ["Landry et al. 2020", "Reed et al. 2021", "NICER 2021", "Breschi et al. 2021"], "range": ["#008000", "#ff0000", "#ffa500", "#0000ff"]}, "legend": null}}},
   {"data": {"name": "bars"}, "transform": [{"filter": "datum.p === 'c'"}], "mark": {"type": "tick", "orient": "vertical", "size": 7, "thickness": 2},
    "encoding": {"x": {"field": "lo", "type": "quantitative", "axis": {"orient": "top", "values": [10.5, 11.5, 12.5, 13.5, 14.5], "tickSize": -4, "labels": false, "title": null}},
     "y": {"field": "M", "type": "quantitative", "axis": null},
     "color": {"field": "obs", "type": "nominal", "scale": {"domain": ["Landry et al. 2020", "Reed et al. 2021", "NICER 2021", "Breschi et al. 2021"], "range": ["#008000", "#ff0000", "#ffa500", "#0000ff"]}, "legend": null}}},
   {"data": {"name": "bars"}, "transform": [{"filter": "datum.p === 'c'"}], "mark": {"type": "tick", "orient": "vertical", "size": 7, "thickness": 2},
    "encoding": {"x": {"field": "hi", "type": "quantitative", "axis": null},
     "y": {"field": "M", "type": "quantitative", "axis": null},
     "color": {"field": "obs", "type": "nominal", "scale": {"domain": ["Landry et al. 2020", "Reed et al. 2021", "NICER 2021", "Breschi et al. 2021"], "range": ["#008000", "#ff0000", "#ffa500", "#0000ff"]}, "legend": null}}},
   {"data": {"name": "obs"}, "mark": {"type": "point", "filled": true, "opacity": 1, "size": 220, "strokeWidth": 0},
    "encoding": {"x": {"field": "R", "type": "quantitative", "axis": null},
     "y": {"field": "M", "type": "quantitative", "axis": null},
     "shape": {"field": "obs", "type": "nominal", "scale": {"domain": ["Landry et al. 2020", "Reed et al. 2021", "NICER 2021", "Breschi et al. 2021"], "range": ["circle", "square", "triangle-up", "diamond"]},
      "legend": {"title": null, "orient": "top-right", "offset": 7, "values": ["Breschi et al. 2021"], "symbolSize": 210, "labelFont": "Liberation Serif", "labelFontSize": 20, "labelOffset": 9, "clipHeight": 23, "rowPadding": 0, "symbolStrokeWidth": 0}},
     "fill": {"field": "obs", "type": "nominal", "scale": {"domain": ["Landry et al. 2020", "Reed et al. 2021", "NICER 2021", "Breschi et al. 2021"], "range": ["#008000", "#ff0000", "#ffa500", "#0000ff"]},
      "legend": {"title": null, "orient": "top-right", "offset": 7, "values": ["Breschi et al. 2021"], "symbolSize": 210, "labelFont": "Liberation Serif", "labelFontSize": 20, "labelOffset": 9, "clipHeight": 23, "rowPadding": 0, "symbolStrokeWidth": 0}}}},
   {"data": {"values": [{}]}, "mark": {"type": "text", "align": "left", "baseline": "top", "dx": 10, "dy": 13, "fontSize": 19, "font": "Liberation Serif", "color": "#222"},
    "encoding": {"x": {"datum": 10, "type": "quantitative", "axis": null}, "y": {"datum": 3, "type": "quantitative", "axis": null}, "text": {"value": "(c)"}}}
  ],
  "resolve": {"scale": {"color": "independent", "strokeDash": "independent", "fill": "independent", "shape": "independent"}, "axis": {"x": "independent", "y": "independent"}}
 }
]
}
